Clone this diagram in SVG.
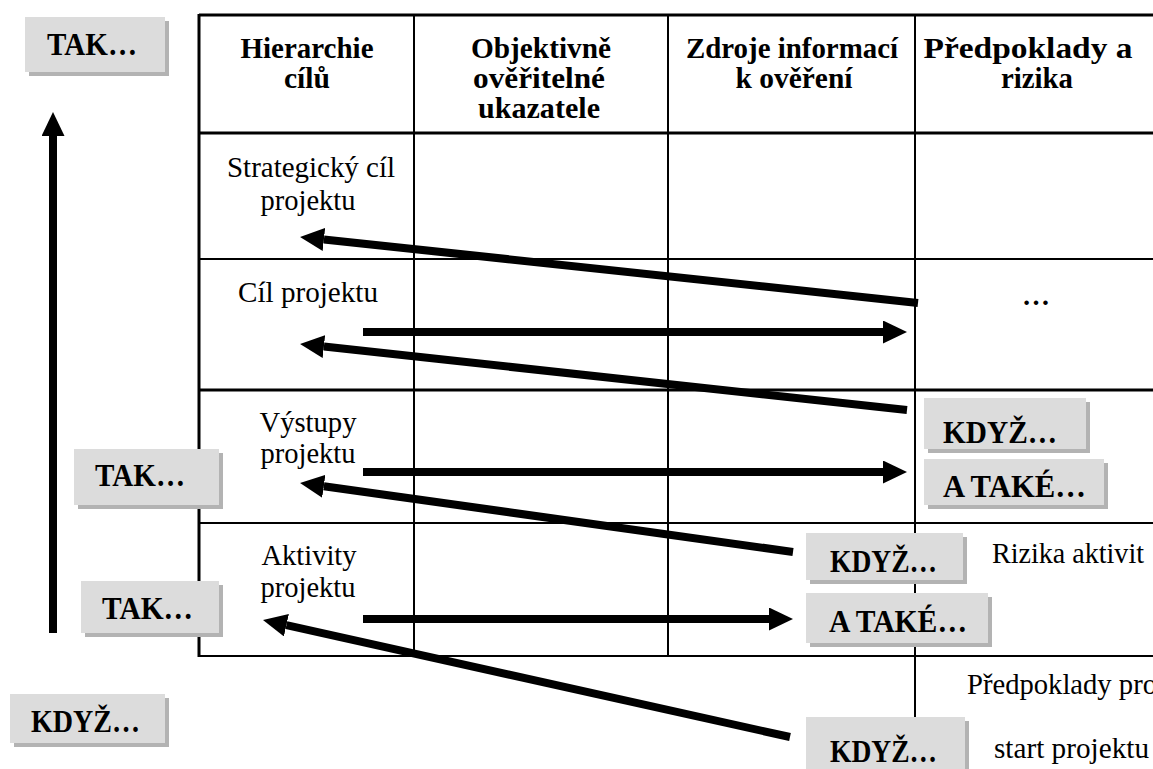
<svg xmlns="http://www.w3.org/2000/svg" width="1153" height="769" viewBox="0 0 1153 769">
  <style>
    .grid { stroke: #000; fill: none; }
    .thin { stroke-width: 2; }
    .thick { stroke-width: 3; }
    .head { font-family: "Liberation Serif", "Times New Roman", serif; font-weight: bold; font-size: 30px; fill: #000; text-anchor: middle; }
    .cell { font-family: "Liberation Serif", "Times New Roman", serif; font-size: 30px; fill: #000; }
    .mid { text-anchor: middle; }
    .tag { font-family: "Liberation Serif", "Times New Roman", serif; font-weight: bold; font-size: 31px; fill: #000; }
    .dots { font-family: "Liberation Serif", "Times New Roman", serif; font-weight: bold; font-size: 28px; fill: #000; text-anchor: middle; }
    .box { fill: #dcdcdc; }
    .shadow { fill: #b3b3b3; }
    .arrow { stroke: #000; stroke-width: 8; fill: none; }
  </style>
  <defs>
    <marker id="tip" markerUnits="userSpaceOnUse" markerWidth="26" markerHeight="24" refX="0" refY="11.5" orient="auto">
      <path d="M0,0 L24,11.5 L0,23 Z" fill="#000"/>
    </marker>
  </defs>
  <rect width="1153" height="769" fill="#fff"/>

  <!-- logical framework grid -->
  <g id="grid" class="grid">
    <line class="thick" x1="199" y1="15" x2="1153" y2="15"/>
    <line class="thick" x1="199" y1="133" x2="1153" y2="133"/>
    <line class="thin" x1="199" y1="259" x2="1153" y2="259"/>
    <line class="thick" x1="199" y1="390" x2="1153" y2="390"/>
    <line class="thin" x1="199" y1="523" x2="1153" y2="523"/>
    <line class="thin" x1="199" y1="656" x2="1153" y2="656"/>
    <line class="thick" x1="199" y1="14" x2="199" y2="657"/>
    <line class="thin" x1="414" y1="15" x2="414" y2="656"/>
    <line class="thin" x1="668" y1="15" x2="668" y2="656"/>
    <line class="thin" x1="915" y1="15" x2="915" y2="769"/>
  </g>

  <!-- column headers -->
  <g id="header-hierarchy">
    <text class="head" x="307" y="58" textLength="133" lengthAdjust="spacingAndGlyphs">Hierarchie</text>
    <text class="head" x="307" y="88" textLength="46" lengthAdjust="spacingAndGlyphs">cílů</text>
  </g>
  <g id="header-indicators">
    <text class="head" x="541" y="58" textLength="140" lengthAdjust="spacingAndGlyphs">Objektivně</text>
    <text class="head" x="539" y="88" textLength="132" lengthAdjust="spacingAndGlyphs">ověřitelné</text>
    <text class="head" x="539" y="118" textLength="122" lengthAdjust="spacingAndGlyphs">ukazatele</text>
  </g>
  <g id="header-sources">
    <text class="head" x="792" y="58" textLength="212" lengthAdjust="spacingAndGlyphs">Zdroje informací</text>
    <text class="head" x="794" y="88" textLength="117" lengthAdjust="spacingAndGlyphs">k ověření</text>
  </g>
  <g id="header-assumptions">
    <text class="head" x="1028" y="58" textLength="209" lengthAdjust="spacingAndGlyphs">Předpoklady a</text>
    <text class="head" x="1037" y="88" textLength="72" lengthAdjust="spacingAndGlyphs">rizika</text>
  </g>

  <!-- row labels -->
  <g id="row-strategic">
    <text class="cell mid" x="311" y="177" textLength="168" lengthAdjust="spacingAndGlyphs">Strategický cíl</text>
    <text class="cell mid" x="308" y="210" textLength="95" lengthAdjust="spacingAndGlyphs">projektu</text>
  </g>
  <g id="row-goal">
    <text class="cell mid" x="308" y="302" textLength="140" lengthAdjust="spacingAndGlyphs">Cíl projektu</text>
    <text class="dots" x="1036" y="305">…</text>
  </g>
  <g id="row-outputs">
    <text class="cell mid" x="308" y="432" textLength="97" lengthAdjust="spacingAndGlyphs">Výstupy</text>
    <text class="cell mid" x="308" y="463" textLength="95" lengthAdjust="spacingAndGlyphs">projektu</text>
  </g>
  <g id="row-activities">
    <text class="cell mid" x="309" y="565" textLength="95" lengthAdjust="spacingAndGlyphs">Aktivity</text>
    <text class="cell mid" x="308" y="597" textLength="95" lengthAdjust="spacingAndGlyphs">projektu</text>
  </g>
  <g id="note-risks">
    <text class="cell" x="992" y="563" textLength="152" lengthAdjust="spacingAndGlyphs">Rizika aktivit</text>
  </g>
  <g id="note-preconditions">
    <text class="cell" x="967" y="694" textLength="190" lengthAdjust="spacingAndGlyphs">Předpoklady pro</text>
    <text class="cell" x="994" y="758" textLength="155" lengthAdjust="spacingAndGlyphs">start projektu</text>
  </g>

  <!-- connectors -->
  <g id="connectors">
    <line class="arrow" x1="53" y1="633" x2="53" y2="136" marker-end="url(#tip)"/>
    <line class="arrow" x1="918" y1="303" x2="323.9" y2="239.5" marker-end="url(#tip)"/>
    <line class="arrow" x1="363" y1="332" x2="883" y2="332" marker-end="url(#tip)"/>
    <line class="arrow" x1="907" y1="410" x2="323.9" y2="346.6" marker-end="url(#tip)"/>
    <line class="arrow" x1="363" y1="472" x2="883" y2="472" marker-end="url(#tip)"/>
    <line class="arrow" x1="793" y1="552" x2="323.8" y2="486.3" marker-end="url(#tip)"/>
    <line class="arrow" x1="363" y1="619" x2="769" y2="619" marker-end="url(#tip)"/>
    <line class="arrow" x1="790" y1="737" x2="286.4" y2="625.2" marker-end="url(#tip)"/>
  </g>

  <!-- condition / result tags -->
  <g id="tag-tak-top">
    <rect class="shadow" x="29" y="21" width="140" height="55"/>
    <rect class="box" x="25" y="17" width="140" height="55"/>
    <text class="tag" x="47" y="55" textLength="90" lengthAdjust="spacingAndGlyphs">TAK…</text>
  </g>
  <g id="tag-tak-outputs">
    <rect class="shadow" x="78" y="453" width="145" height="56"/>
    <rect class="box" x="74" y="449" width="145" height="56"/>
    <text class="tag" x="95" y="486" textLength="90" lengthAdjust="spacingAndGlyphs">TAK…</text>
  </g>
  <g id="tag-tak-activities">
    <rect class="shadow" x="85" y="585" width="138" height="52"/>
    <rect class="box" x="81" y="581" width="138" height="52"/>
    <text class="tag" x="102" y="619" textLength="91" lengthAdjust="spacingAndGlyphs">TAK…</text>
  </g>
  <g id="tag-kdyz-left">
    <rect class="shadow" x="14" y="698" width="155" height="49"/>
    <rect class="box" x="10" y="694" width="155" height="49"/>
    <text class="tag" x="31" y="732" textLength="109" lengthAdjust="spacingAndGlyphs">KDYŽ…</text>
  </g>
  <g id="tag-kdyz-outputs">
    <rect class="shadow" x="928" y="402" width="162" height="51"/>
    <rect class="box" x="924" y="398" width="162" height="51"/>
    <text class="tag" x="943" y="443" textLength="114" lengthAdjust="spacingAndGlyphs">KDYŽ…</text>
  </g>
  <g id="tag-atake-outputs">
    <rect class="shadow" x="928" y="463" width="180" height="46"/>
    <rect class="box" x="924" y="459" width="180" height="46"/>
    <text class="tag" x="943" y="497" textLength="143" lengthAdjust="spacingAndGlyphs">A TAKÉ…</text>
  </g>
  <g id="tag-kdyz-activities">
    <rect class="shadow" x="810" y="537" width="157" height="47"/>
    <rect class="box" x="806" y="533" width="157" height="47"/>
    <text class="tag" x="830" y="572" textLength="107" lengthAdjust="spacingAndGlyphs">KDYŽ…</text>
  </g>
  <g id="tag-atake-activities">
    <rect class="shadow" x="810" y="597" width="182" height="50"/>
    <rect class="box" x="806" y="593" width="182" height="50"/>
    <text class="tag" x="829" y="632" textLength="138" lengthAdjust="spacingAndGlyphs">A TAKÉ…</text>
  </g>
  <g id="tag-kdyz-start">
    <rect class="shadow" x="810" y="721" width="159" height="60"/>
    <rect class="box" x="806" y="717" width="159" height="60"/>
    <text class="tag" x="830" y="762" textLength="107" lengthAdjust="spacingAndGlyphs">KDYŽ…</text>
  </g>
</svg>
